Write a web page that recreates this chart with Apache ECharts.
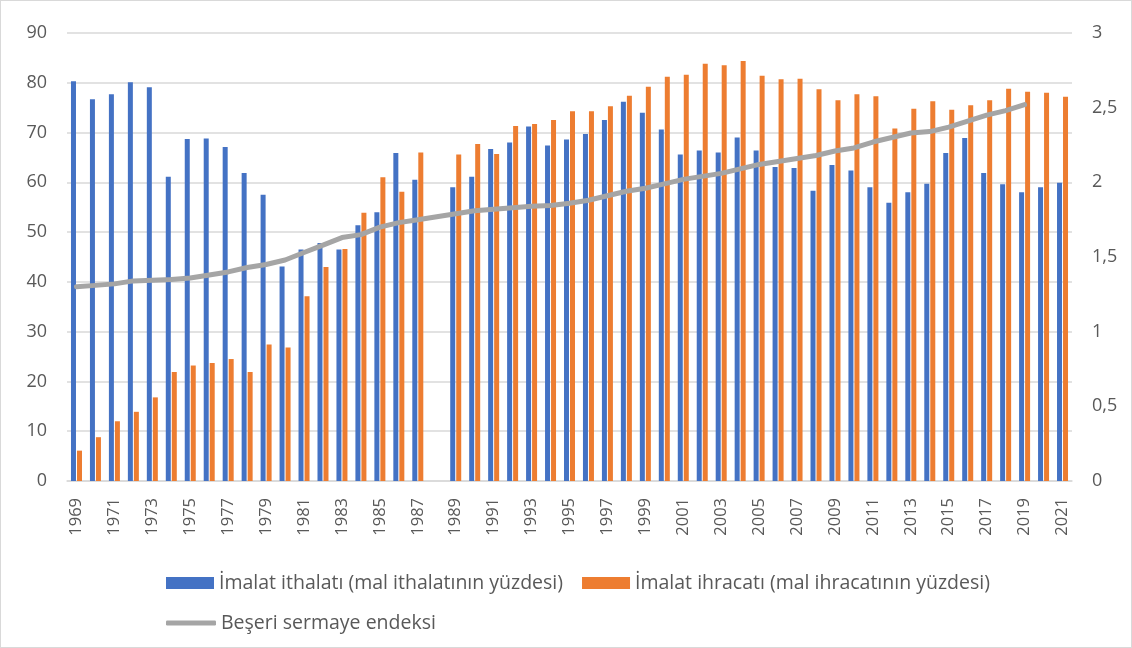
<!DOCTYPE html>
<html>
<head>
<meta charset="utf-8">
<script src="https://cdn.jsdelivr.net/npm/echarts@6/dist/echarts.min.js"></script>
<style>
  html, body { margin: 0; padding: 0; background: #fff; }
  #chart { width: 1130px; height: 646px; border: 1px solid #d9d9d9; }
</style>
</head>
<body>
<div id="chart"></div>
<script>
// yıllar
const years = [];
for (let y = 1969; y <= 2021; y++) years.push(String(y));

// İmalat ithalatı (mal ithalatının yüzdesi)
const imports = [80.3, 76.7, 77.7, 80.1, 79.1, 61.1, 68.7, 68.8, 67.1, 61.9,
  57.5, 43.1, 46.5, 47.8, 46.5, 51.4, 54.0, 65.9, 60.5, null,
  59.0, 61.1, 66.7, 68.0, 71.2, 67.4, 68.6, 69.7, 72.5, 76.2,
  74.0, 70.6, 65.6, 66.4, 66.0, 69.0, 66.4, 63.1, 62.9, 58.3,
  63.5, 62.4, 59.0, 55.9, 58.0, 59.7, 65.9, 68.9, 61.9, 59.6,
  58.0, 59.0, 59.9];

// İmalat ihracatı (mal ihracatının yüzdesi)
const exports = [6.1, 8.8, 12.0, 13.9, 16.8, 21.9, 23.2, 23.7, 24.5, 21.9,
  27.4, 26.8, 37.1, 43.0, 46.6, 53.9, 61.0, 58.1, 66.0, null,
  65.6, 67.7, 65.7, 71.3, 71.7, 72.5, 74.3, 74.3, 75.3, 77.4,
  79.2, 81.2, 81.6, 83.8, 83.5, 84.4, 81.4, 80.7, 80.8, 78.7,
  76.5, 77.7, 77.3, 70.8, 74.8, 76.3, 74.6, 75.5, 76.5, 78.8,
  78.2, 78.0, 77.2];

// Beşeri sermaye endeksi (sağ eksen)
const hci = [1.30, 1.31, 1.32, 1.34, 1.345, 1.35, 1.36, 1.38, 1.40, 1.43,
  1.45, 1.48, 1.53, 1.58, 1.63, 1.65, 1.70, 1.73, 1.75, 1.77,
  1.79, 1.81, 1.82, 1.83, 1.84, 1.845, 1.86, 1.88, 1.91, 1.94,
  1.96, 1.99, 2.02, 2.04, 2.06, 2.09, 2.12, 2.14, 2.16, 2.18,
  2.21, 2.23, 2.27, 2.30, 2.33, 2.34, 2.37, 2.41, 2.45, 2.48,
  2.52, null, null];

const font = "'Open Sans', 'Noto Sans', sans-serif";
const textColor = "#595959";

let myChart = echarts.init(document.getElementById("chart"));
let option = {
  animation: false,
  textStyle: { fontFamily: font },
  grid: { left: 66, right: 59, top: 32, bottom: 166 },
  legend: [
    {
      left: 160,
      top: 567,
      itemWidth: 48,
      itemHeight: 12,
      itemGap: 19,
      icon: "rect",
      textStyle: { fontSize: 19.5, color: textColor, fontFamily: font },
      data: ["İmalat ithalatı (mal ithalatının yüzdesi)", "İmalat ihracatı (mal ihracatının yüzdesi)"],
    },
    {
      left: 160,
      top: 607,
      itemWidth: 50,
      itemHeight: 5,
      icon: "roundRect",
      textStyle: { fontSize: 19.5, color: textColor, fontFamily: font },
      data: ["Beşeri sermaye endeksi"],
    },
  ],
  xAxis: {
    type: "category",
    data: years,
    axisLine: { lineStyle: { color: "#d9d9d9", width: 1.5 } },
    axisTick: { show: false },
    axisLabel: {
      rotate: 90,
      interval: 1,
      fontSize: 16.5,
      color: textColor,
      margin: 17,
    },
  },
  yAxis: [
    {
      type: "value",
      min: 0,
      max: 90,
      interval: 10,
      axisLine: { show: false },
      axisTick: { show: false },
      axisLabel: { fontSize: 18, color: textColor, margin: 20 },
      splitLine: { lineStyle: { color: "#d9d9d9", width: 1.5 } },
    },
    {
      type: "value",
      min: 0,
      max: 3,
      interval: 0.5,
      axisLine: { show: false },
      axisTick: { show: false },
      splitLine: { show: false },
      axisLabel: {
        fontSize: 18,
        color: textColor,
        margin: 20,
        formatter: (v) => String(v).replace(".", ","),
      },
    },
  ],
  series: [
    {
      name: "İmalat ithalatı (mal ithalatının yüzdesi)",
      type: "bar",
      data: imports,
      barWidth: 5,
      barGap: "20%",
      itemStyle: { color: "#4472c4" },
    },
    {
      name: "İmalat ihracatı (mal ihracatının yüzdesi)",
      type: "bar",
      data: exports,
      barWidth: 5,
      itemStyle: { color: "#ed7d31" },
    },
    {
      name: "Beşeri sermaye endeksi",
      type: "line",
      yAxisIndex: 1,
      data: hci,
      showSymbol: false,
      symbol: "none",
      lineStyle: { color: "#a5a5a5", width: 5, cap: "round", join: "round" },
      itemStyle: { color: "#a5a5a5" },
    },
  ],
};
myChart.setOption(option);
</script>
</body>
</html>
